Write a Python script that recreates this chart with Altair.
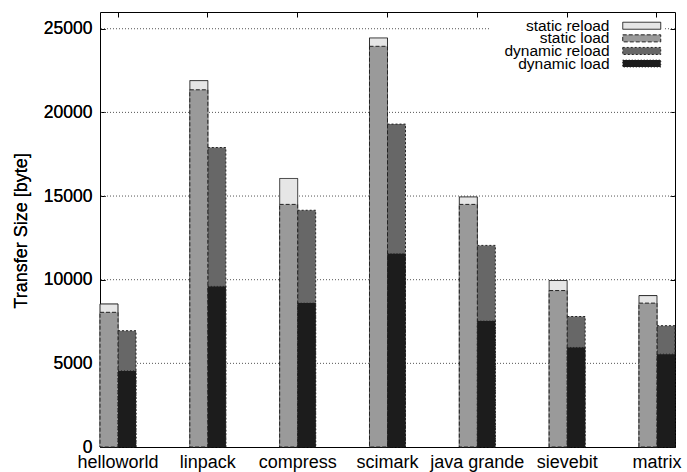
import altair as alt
import pandas as pd

# Transfer size per benchmark, in bytes
benchmarks = ["helloworld", "linpack", "compress", "scimark", "java grande", "sievebit", "matrix"]
static_reload = [8550, 21900, 16050, 24450, 14950, 9950, 9050]
static_load = [8050, 21350, 14500, 23950, 14500, 9350, 8600]
dynamic_reload = [6950, 17900, 14150, 19300, 12050, 7800, 7250]
dynamic_load = [4550, 9600, 8600, 11550, 7530, 5950, 5550]

series_names = ["static reload", "static load", "dynamic reload", "dynamic load"]
series_fill = ["#e6e6e6", "#9a9a9a", "#676767", "#1c1c1c"]
series_edge = ["#222222", "#222222", "#222222", "#222222"]
series_dash = [[1, 0], [4, 2], [2, 2], [1, 2]]
groups = ["static", "dynamic"]
y_ticks = [0, 5000, 10000, 15000, 20000, 25000]

FONT = "Liberation Sans"

rows = []
for i, b in enumerate(benchmarks):
    rows.append(dict(benchmark=b, group="static", series="static reload", kind="reload", value=static_reload[i]))
    rows.append(dict(benchmark=b, group="static", series="static load", kind="load", value=static_load[i]))
    rows.append(dict(benchmark=b, group="dynamic", series="dynamic reload", kind="reload", value=dynamic_reload[i]))
    rows.append(dict(benchmark=b, group="dynamic", series="dynamic load", kind="load", value=dynamic_load[i]))
df = pd.DataFrame(rows)
grid_df = pd.DataFrame({"value": y_ticks[1:]})

y_scale = alt.Scale(domain=[0, 26000], nice=False)
x_scale = alt.Scale(paddingInner=0.599, paddingOuter=0)

# left axis with labels, ticks pointing into the plot
y_left = alt.Y(
    "value:Q", stack=None, scale=y_scale,
    axis=alt.Axis(
        values=y_ticks, format="d", title="Transfer Size [byte]",
        labelFontSize=17.5, titleFontSize=18, tickSize=5, offset=-5,
        labelPadding=8, titleX=-84, titleY=218.5, titleBaseline="middle",
        titleAlign="center", titleAngle=270,
    ),
)
# mirrored ticks on the right edge
y_right = alt.Y(
    "value:Q", stack=None, scale=y_scale,
    axis=alt.Axis(orient="right", values=y_ticks, labels=False, title=None,
                  tickSize=5, offset=-5),
)
x_bottom = alt.X(
    "benchmark:N", sort=benchmarks, scale=x_scale,
    axis=alt.Axis(title=None, labelAngle=0, labelFontSize=18, tickSize=5,
                  offset=-5, labelPadding=6),
)
x_top = alt.X(
    "benchmark:N", sort=benchmarks, scale=x_scale,
    axis=alt.Axis(orient="top", title=None, labels=False, tickSize=5, offset=-5),
)
xoff_enc = alt.XOffset("group:N", scale=alt.Scale(domain=groups, paddingInner=0, paddingOuter=0))
fill_enc = alt.Fill("series:N", scale=alt.Scale(domain=series_names, range=series_fill), title=None)
edge_enc = alt.Stroke("series:N", scale=alt.Scale(domain=series_names, range=series_edge), title=None)
dash_enc = alt.StrokeDash("series:N", scale=alt.Scale(domain=series_names, range=series_dash), title=None)

grid = alt.Chart(grid_df).mark_rule(color="#555555", strokeDash=[1, 2], strokeWidth=1).encode(y=y_right)

reload_bars = alt.Chart(df).mark_bar(strokeWidth=1).encode(
    x=x_bottom, xOffset=xoff_enc, y=y_left, fill=fill_enc, stroke=edge_enc, strokeDash=dash_enc
).transform_filter(alt.datum.kind == "reload")
load_bars = alt.Chart(df).mark_bar(strokeWidth=1).encode(
    x=x_top, xOffset=xoff_enc, y=y_left, fill=fill_enc, stroke=edge_enc, strokeDash=dash_enc
).transform_filter(alt.datum.kind == "load")

chart = (
    alt.layer(grid, reload_bars, load_bars)
    .resolve_axis(x="independent", y="independent")
    .properties(
        width=575, height=435,
        autosize=alt.AutoSizeParams(type="none"),
        padding={"left": 100, "top": 12, "right": 12, "bottom": 25},
    )
    .configure_view(stroke="black", strokeWidth=1)
    .configure_axis(
        labelFont=FONT, titleFont=FONT, labelColor="black", titleColor="black",
        tickColor="black", grid=False, domain=False, titleFontWeight="normal",
    )
    .configure_legend(
        orient="none", legendX=389, legendY=6, padding=0, fillColor="white",
        labelAlign="right", labelOffset=105, labelFontSize=15.5, labelFont=FONT,
        labelColor="black", labelLimit=300,
        symbolType="M19.38,-0.54H25.23V0.54H19.38Z", symbolSize=169,
        symbolStrokeWidth=1, symbolOpacity=1,
        rowPadding=-4.4, gridAlign="none",
    )
)

chart.save("out.html", embed_options={"renderer": "svg", "actions": False})
